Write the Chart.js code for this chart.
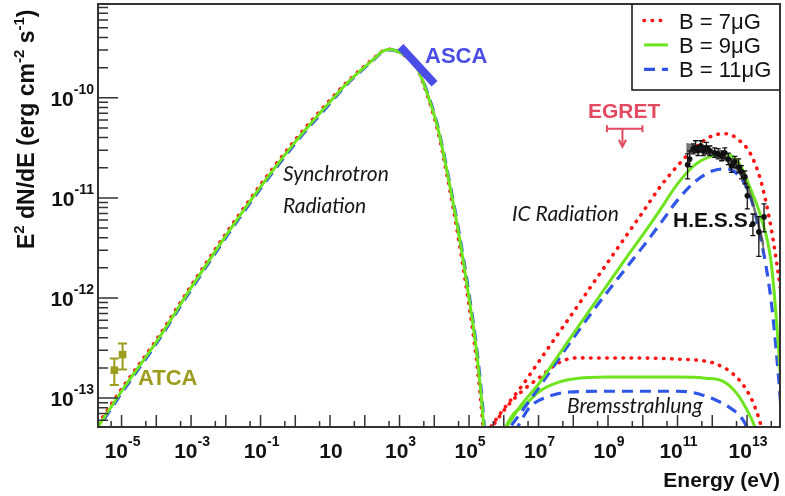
<!DOCTYPE html>
<html>
<head>
<meta charset="utf-8">
<script src="https://cdn.jsdelivr.net/npm/chart.js@4.4.1/dist/chart.umd.min.js"></script>
<style>
  html, body { margin: 0; padding: 0; background: #fff; }
  #wrap { width: 785px; height: 496px; }
</style>
</head>
<body>
<div id="wrap"><canvas id="sed" width="785" height="496"></canvas></div>
<script>
// ========================================
// DATOS
// ========================================
const seriesNames = ['B = 7\u03bcG', 'B = 9\u03bcG', 'B = 11\u03bcG'];

// sincrotron
const syncE   = [1.6e-6, 1e-5, 1e-4, 1e-3, 1e-2, 0.1, 1, 10, 31.6, 100, 200, 320, 500, 800, 1600, 3200, 6300, 1.26e4, 2.5e4, 5e4, 1e5, 1.6e5, 2.24e5, 3.16e5];
const syncB7  = [4.7e-14, 1.23e-13, 3.8e-13, 1.32e-12, 4.37e-12, 1.35e-11, 3.8e-11, 9.5e-11, 1.45e-10, 2.08e-10, 2.55e-10, 2.92e-10, 3.05e-10, 2.95e-10, 2.55e-10, 1.97e-10, 1.06e-10, 4.7e-11, 1.48e-11, 3.9e-12, 8.5e-13, 2.6e-13, 8.5e-14, 2.0e-14];
const syncB9  = [4.47e-14, 1.17e-13, 3.63e-13, 1.26e-12, 4.17e-12, 1.29e-11, 3.63e-11, 9.12e-11, 1.41e-10, 2.04e-10, 2.51e-10, 2.9e-10, 3.03e-10, 2.95e-10, 2.57e-10, 2.0e-10, 1.10e-10, 5.0e-11, 1.62e-11, 4.47e-12, 1.0e-12, 3.16e-13, 1.05e-13, 2.5e-14];
const syncB11 = [4.3e-14, 1.12e-13, 3.5e-13, 1.21e-12, 4.0e-12, 1.24e-11, 3.5e-11, 8.8e-11, 1.38e-10, 2.0e-10, 2.48e-10, 2.88e-10, 3.01e-10, 2.95e-10, 2.58e-10, 2.03e-10, 1.13e-10, 5.2e-11, 1.7e-11, 4.8e-12, 1.1e-12, 3.5e-13, 1.2e-13, 2.9e-14];

// compton inverso
const icE   = [3.16e5, 1e6, 3.16e6, 1e7, 3.16e7, 1e8, 3.16e8, 1e9, 3.16e9, 1e10, 3.16e10, 1e11, 3.16e11, 1e12, 2.5e12, 6.3e12, 1.26e13, 2.5e13, 5e13, 7.9e13, 1e14];
const icB7  = [4.47e-14, 7.8e-14, 1.29e-13, 2.29e-13, 4.07e-13, 7.2e-13, 1.29e-12, 2.29e-12, 4.07e-12, 7.2e-12, 1.29e-11, 2.09e-11, 3.16e-11, 4.17e-11, 4.37e-11, 3.7e-11, 2.75e-11, 1.48e-11, 4.9e-12, 1.78e-12, 1.0e-12];
const icB9  = [2.8e-14, 4.7e-14, 8.5e-14, 1.38e-13, 2.45e-13, 4.37e-13, 7.8e-13, 1.38e-12, 2.45e-12, 4.27e-12, 7.6e-12, 1.38e-11, 2.14e-11, 2.63e-11, 2.75e-11, 2.14e-11, 1.23e-11, 6.5e-12, 2.2e-12, 3.55e-13, 1.0e-13];
const icB11 = [1.78e-14, 4.07e-14, 7.2e-14, 1.26e-13, 2.24e-13, 3.98e-13, 6.9e-13, 1.17e-12, 1.95e-12, 3.24e-12, 5.5e-12, 9.5e-12, 1.45e-11, 1.86e-11, 1.95e-11, 1.62e-11, 1.02e-11, 3.9e-12, 9.1e-13, 1.78e-13, 6.3e-14];

// bremsstrahlung
const bremsE7  = [4e5, 1.2e6, 3.6e6, 1.1e7, 3.3e7, 1.2e8, 1e9, 1e10, 1e11, 6.3e11, 1.3e12, 4e12, 9.8e12, 1.7e13, 2.6e13, 4e13];
const bremsB7  = [4.8e-14, 8.1e-14, 1.2e-13, 1.62e-13, 2.19e-13, 2.52e-13, 2.51e-13, 2.51e-13, 2.45e-13, 2.34e-13, 2.19e-13, 1.74e-13, 1.2e-13, 8.1e-14, 5.1e-14, 2.5e-14];
const bremsE9  = [8.9e5, 2e6, 4e6, 1e7, 3.16e7, 1e8, 1e9, 1e10, 1e11, 6.3e11, 2e12, 5e12, 1e13, 1.7e13, 2.5e13];
const bremsB9  = [4.47e-14, 7.1e-14, 8.5e-14, 1.15e-13, 1.41e-13, 1.55e-13, 1.62e-13, 1.62e-13, 1.62e-13, 1.58e-13, 1.48e-13, 1.12e-13, 7.6e-14, 5.1e-14, 3.2e-14];
const bremsE11 = [2e6, 5.6e6, 1.7e7, 8e7, 1e9, 1e10, 1e11, 2.3e11, 1.3e12, 4e12, 7.8e12, 9.8e12, 1.26e13];
const bremsB11 = [4.47e-14, 8.1e-14, 1.02e-13, 1.15e-13, 1.17e-13, 1.17e-13, 1.17e-13, 1.15e-13, 9.5e-14, 7.6e-14, 6.0e-14, 5.1e-14, 3.5e-14];

// H.E.S.S.
const hessE  = [1.95e11, 2.24e11, 2.82e11, 3.31e11, 3.89e11, 4.68e11, 5.5e11, 6.76e11, 8.5e11, 1.17e12, 1.48e12, 1.86e12, 2.29e12, 2.88e12, 3.55e12, 4.47e12, 5.75e12, 6.92e12, 8.7e12, 1.02e13, 1.48e13, 2.19e13, 3.09e13];
const hessF  = [2.14e-11, 2.45e-11, 3.09e-11, 3.16e-11, 2.95e-11, 3.31e-11, 2.95e-11, 3.16e-11, 2.95e-11, 2.82e-11, 2.75e-11, 2.63e-11, 2.82e-11, 2.45e-11, 2.09e-11, 2.29e-11, 2.04e-11, 1.82e-11, 1.62e-11, 1.05e-11, 5.5e-12, 4.57e-12, 6.46e-12];
const hessHi = [2.75e-11, 2.95e-11, 3.47e-11, 3.72e-11, 3.3e-11, 3.72e-11, 3.3e-11, 3.59e-11, 3.3e-11, 3.16e-11, 3.1e-11, 2.95e-11, 3.16e-11, 2.8e-11, 2.45e-11, 2.6e-11, 2.45e-11, 2.1e-11, 1.86e-11, 1.28e-11, 6.9e-12, 6.5e-12, 8.7e-12];
const hessLo = [1.55e-11, 2.05e-11, 2.75e-11, 2.85e-11, 2.65e-11, 2.95e-11, 2.65e-11, 2.75e-11, 2.65e-11, 2.54e-11, 2.45e-11, 2.35e-11, 2.45e-11, 2.15e-11, 1.8e-11, 2.0e-11, 1.8e-11, 1.55e-11, 1.38e-11, 7.76e-12, 4.2e-12, 2.6e-12, 4.57e-12];
const hessBandE  = [1.78e11, 3.16e11, 6.3e11, 1.26e12, 2.5e12, 5e12, 7.9e12, 1.26e13, 2e13, 3.16e13];
const hessBandHi = [3.55e-11, 3.39e-11, 3.24e-11, 2.95e-11, 2.63e-11, 2.19e-11, 1.74e-11, 1.17e-11, 6.6e-12, 3.55e-12];
const hessBandLo = [2.75e-11, 2.82e-11, 2.75e-11, 2.57e-11, 2.29e-11, 1.86e-11, 1.45e-11, 9.5e-12, 5.25e-12, 2.63e-12];

// ATCA, ASCA, EGRET
const atcaE  = [6.2e-6, 1.07e-5];
const atcaF  = [1.9e-13, 2.72e-13];
const atcaLo = [1.35e-13, 1.93e-13];
const atcaHi = [2.48e-13, 3.5e-13];
const ascaE = [1.07e3, 1.02e4];
const ascaF = [3.24e-10, 1.38e-10];
const egretE = [9.3e8, 9.8e9];
const egretF = 4.9e-11;
const egretArrowE = 2.6e9;

// ejes
const xRange = [2.1e-6, 8.9e13];
const yRange = [5.14e-14, 8.65e-10];
const xMajorExp = [-5, -4, -3, -2, -1, 0, 1, 2, 3, 4, 5, 6, 7, 8, 9, 10, 11, 12, 13];
const xLabelExp = [-5, -3, -1, 1, 3, 5, 7, 9, 11, 13];
const yMajorExp = [-13, -12, -11, -10];
const yMinorDecades = [-14, -13, -12, -11, -10];

// ========================================
// ESTILOS
// ========================================
const RED = '#ff1414', GREEN = '#6ee41e', BLUE = '#2f56e6';
const styleB7  = { color: RED,   dash: [0.5, 7.6], width: 3.6, cap: 'round' };
const styleB9  = { color: GREEN, dash: [],         width: 3.0, cap: 'butt' };
const styleB11 = { color: BLUE,  dash: [11, 7],    width: 3.2, cap: 'butt' };
const FONT = '"Liberation Sans", Arial, sans-serif';
const ITALIC = 'italic 21px Lato, "Open Sans", sans-serif';

function pts(xs, ys) {
    return xs.map((v, i) => ({ x: v, y: ys[i] }));
}

function curve(label, xs, ys, st) {
    return {
        label: label,
        data: pts(xs, ys),
        borderColor: st.color,
        borderWidth: st.width,
        borderDash: st.dash,
        borderCapStyle: st.cap,
        pointRadius: 0,
        fill: false,
        cubicInterpolationMode: 'monotone',
        clip: 0
    };
}

// ========================================
// TEXTOS
// ========================================
const notes = [
    { text: 'Synchrotron',    x: 283, y: 181, font: ITALIC, color: '#161616' },
    { text: 'Radiation',      x: 283, y: 213, font: ITALIC, color: '#161616' },
    { text: 'IC Radiation',   x: 512, y: 221, font: ITALIC, color: '#161616' },
    { text: 'Bremsstrahlung', x: 567, y: 413, font: ITALIC, color: '#161616' },
    { text: 'H.E.S.S.',       x: 673, y: 227, font: 'bold 21px ' + FONT, color: '#111' },
    { text: 'ATCA',           x: 138, y: 385, font: 'bold 22px ' + FONT, color: '#9c9c1e' },
    { text: 'ASCA',           x: 425, y: 63,  font: 'bold 22px ' + FONT, color: '#4c4ce6' },
    { text: 'EGRET',          x: 588, y: 118, font: 'bold 21px ' + FONT, color: '#e24a62' }
];

function drawPow(ctx, exp, x, baseline, align) {
    const baseFont = 'bold 21px ' + FONT, supFont = 'bold 14px ' + FONT;
    ctx.font = baseFont;
    const wb = ctx.measureText('10').width;
    let sup = exp === 1 ? '' : String(exp);
    ctx.font = supFont;
    const ws = sup ? ctx.measureText(sup).width : 0;
    let left = align === 'center' ? x - (wb + ws) / 2 : x - wb - ws;
    ctx.textAlign = 'left';
    ctx.font = baseFont;
    ctx.fillText('10', left, baseline);
    if (sup) {
        ctx.font = supFont;
        ctx.fillText(sup, left + wb, baseline - 12);
    }
}

// ========================================
// PLUGIN: BARRAS DE ERROR, MARCO, EJES, LEYENDA
// ========================================
const overlay = {
    id: 'overlay',
    afterDatasetsDraw(chart) {
        const ctx = chart.ctx, ca = chart.chartArea;
        const xs = chart.scales.x, ys = chart.scales.y;
        ctx.save();
        ctx.beginPath();
        ctx.rect(ca.left, ca.top, ca.right - ca.left, ca.bottom - ca.top);
        ctx.clip();

        // H.E.S.S. barras de error
        ctx.strokeStyle = '#111';
        ctx.lineWidth = 1.3;
        hessE.forEach((e, i) => {
            const px = xs.getPixelForValue(e);
            const yt = ys.getPixelForValue(hessHi[i]);
            const yb = ys.getPixelForValue(hessLo[i]);
            ctx.beginPath();
            ctx.moveTo(px, yt); ctx.lineTo(px, yb);
            ctx.moveTo(px - 2.5, yt); ctx.lineTo(px + 2.5, yt);
            ctx.moveTo(px - 2.5, yb); ctx.lineTo(px + 2.5, yb);
            ctx.stroke();
        });

        // ATCA
        ctx.strokeStyle = '#9c9c1e';
        ctx.fillStyle = '#9c9c1e';
        ctx.lineWidth = 2;
        atcaE.forEach((e, i) => {
            const px = xs.getPixelForValue(e);
            const py = ys.getPixelForValue(atcaF[i]);
            const yt = ys.getPixelForValue(atcaHi[i]);
            const yb = ys.getPixelForValue(atcaLo[i]);
            ctx.beginPath();
            ctx.moveTo(px, yt); ctx.lineTo(px, yb);
            ctx.moveTo(px - 4.5, yt); ctx.lineTo(px + 4.5, yt);
            ctx.moveTo(px - 4.5, yb); ctx.lineTo(px + 4.5, yb);
            ctx.stroke();
            ctx.fillRect(px - 3.8, py - 3.8, 7.6, 7.6);
        });

        // EGRET limite superior
        ctx.strokeStyle = '#e24a62';
        ctx.fillStyle = '#e24a62';
        ctx.lineWidth = 2;
        const ex0 = xs.getPixelForValue(egretE[0]);
        const ex1 = xs.getPixelForValue(egretE[1]);
        const ey = ys.getPixelForValue(egretF);
        const ax = xs.getPixelForValue(egretArrowE);
        ctx.beginPath();
        ctx.moveTo(ex0, ey); ctx.lineTo(ex1, ey);
        ctx.moveTo(ex0, ey - 3.5); ctx.lineTo(ex0, ey + 3.5);
        ctx.moveTo(ex1, ey - 3.5); ctx.lineTo(ex1, ey + 3.5);
        ctx.moveTo(ax, ey); ctx.lineTo(ax, ey + 16);
        ctx.stroke();
        ctx.beginPath();
        ctx.moveTo(ax - 3.6, ey + 11);
        ctx.lineTo(ax, ey + 18);
        ctx.lineTo(ax + 3.6, ey + 11);
        ctx.stroke();
        ctx.restore();
    },
    afterDraw(chart) {
        const ctx = chart.ctx, ca = chart.chartArea;
        const xs = chart.scales.x, ys = chart.scales.y;
        ctx.save();

        // leyenda
        ctx.fillStyle = '#fff';
        ctx.fillRect(632, ca.top, ca.right - 632, 86);
        ctx.strokeStyle = '#111';
        ctx.lineWidth = 1.5;
        ctx.strokeRect(632, ca.top, ca.right - 632, 86);
        [styleB7, styleB9, styleB11].forEach((st, i) => {
            const cy = 20.5 + i * 24.4;
            ctx.strokeStyle = st.color;
            ctx.lineWidth = st.width;
            ctx.lineCap = st.cap;
            ctx.setLineDash(st.dash);
            ctx.beginPath();
            ctx.moveTo(644, cy); ctx.lineTo(668, cy);
            ctx.stroke();
            ctx.setLineDash([]);
            ctx.lineCap = 'butt';
            ctx.fillStyle = '#111';
            ctx.font = '22px ' + FONT;
            ctx.textAlign = 'left';
            ctx.fillText(seriesNames[i], 679, cy + 8);
        });

        // marco
        ctx.strokeStyle = '#333';
        ctx.lineWidth = 2;
        ctx.strokeRect(ca.left, ca.top, ca.right - ca.left, ca.bottom - ca.top);

        // marcas eje x
        ctx.lineWidth = 1.5;
        ctx.beginPath();
        xMajorExp.forEach(e => {
            const px = xs.getPixelForValue(Math.pow(10, e));
            ctx.moveTo(px, ca.bottom); ctx.lineTo(px, ca.bottom - 12);
            const pm = xs.getPixelForValue(5 * Math.pow(10, e - 1));
            if (pm > ca.left) { ctx.moveTo(pm, ca.bottom); ctx.lineTo(pm, ca.bottom - 6); }
        });
        const pLast = xs.getPixelForValue(5e13);
        ctx.moveTo(pLast, ca.bottom); ctx.lineTo(pLast, ca.bottom - 6);

        // marcas eje y
        yMinorDecades.forEach(d => {
            for (let m = 1; m <= 9; m++) {
                const v = m * Math.pow(10, d);
                if (v < yRange[0] || v > yRange[1]) continue;
                const py = ys.getPixelForValue(v);
                const len = m === 1 ? 20 : 10;
                ctx.moveTo(ca.left, py); ctx.lineTo(ca.left + len, py);
            }
        });
        ctx.stroke();

        // etiquetas
        ctx.fillStyle = '#111';
        xLabelExp.forEach(e => {
            drawPow(ctx, e, xs.getPixelForValue(Math.pow(10, e)) + 1, 458, 'center');
        });
        yMajorExp.forEach(e => {
            const py = ys.getPixelForValue(Math.pow(10, e));
            drawPow(ctx, e, 94, py + 8, 'right');
        });

        // titulo eje x
        ctx.font = 'bold 21px ' + FONT;
        ctx.textAlign = 'right';
        ctx.fillText('Energy (eV)', ca.right, 487);

        // titulo eje y
        ctx.save();
        ctx.translate(33.5, 249);
        ctx.rotate(-Math.PI / 2);
        ctx.textAlign = 'left';
        const parts = [['E', 0], ['2', 1], [' dN/dE (erg cm', 0], ['-2', 1], [' s', 0], ['-1', 1], [')', 0]];
        let cx = 0;
        parts.forEach(p => {
            ctx.font = p[1] ? 'bold 15px ' + FONT : 'bold 23px ' + FONT;
            ctx.fillText(p[0], cx, p[1] ? -10 : 0);
            cx += ctx.measureText(p[0]).width;
        });
        ctx.restore();

        // anotaciones
        notes.forEach(n => {
            ctx.font = n.font;
            ctx.fillStyle = n.color;
            ctx.textAlign = 'left';
            ctx.fillText(n.text, n.x, n.y);
        });
        ctx.restore();
    }
};

// ========================================
// GRAFICO
// ========================================
const datasets = [
    {
        label: 'H.E.S.S.',
        data: pts(hessE, hessF),
        showLine: false,
        pointRadius: 2.8,
        pointBackgroundColor: '#111',
        pointBorderWidth: 0
    },
    {
        label: 'band hi',
        data: pts(hessBandE, hessBandHi),
        borderWidth: 0,
        pointRadius: 0,
        fill: false,
        cubicInterpolationMode: 'monotone'
    },
    {
        label: 'band lo',
        data: pts(hessBandE, hessBandLo),
        borderWidth: 0,
        pointRadius: 0,
        fill: '-1',
        backgroundColor: 'rgba(70,70,70,0.75)',
        cubicInterpolationMode: 'monotone'
    },
    {
        label: 'asca',
        data: pts(ascaE, ascaF),
        borderColor: '#4c4ce6',
        borderWidth: 8,
        pointRadius: 0,
        borderCapStyle: 'butt'
    },
    curve('sync 9', syncE, syncB9, styleB9),
    curve('sync 11', syncE, syncB11, styleB11),
    curve('sync 7', syncE, syncB7, styleB7),
    curve('ic 9', icE, icB9, styleB9),
    curve('ic 11', icE, icB11, styleB11),
    curve('ic 7', icE, icB7, styleB7),
    curve('brems 9', bremsE9, bremsB9, styleB9),
    curve('brems 11', bremsE11, bremsB11, styleB11),
    curve('brems 7', bremsE7, bremsB7, styleB7)
];

new Chart(document.getElementById('sed'), {
    type: 'line',
    data: { datasets: datasets },
    options: {
        responsive: false,
        animation: false,
        layout: { padding: { left: 98, right: 5, top: 3, bottom: 69 } },
        scales: {
            x: { type: 'logarithmic', min: xRange[0], max: xRange[1], bounds: 'data', display: false },
            y: { type: 'logarithmic', min: yRange[0], max: yRange[1], bounds: 'data', display: false }
        },
        plugins: {
            legend: { display: false },
            tooltip: { enabled: false }
        }
    },
    plugins: [overlay]
});
</script>
</body>
</html>
